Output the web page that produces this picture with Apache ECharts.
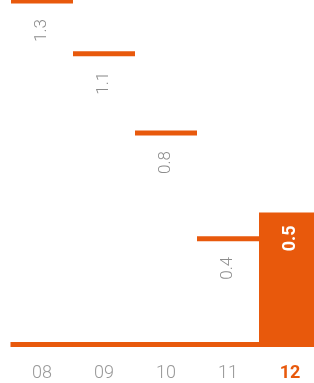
<!DOCTYPE html>
<html>
<head>
<meta charset="utf-8">
<script src="https://cdn.jsdelivr.net/npm/echarts@6/dist/echarts.min.js"></script>
<style>
  html, body { margin: 0; padding: 0; background: #fff; }
  #chart { width: 314px; height: 383px; }
</style>
</head>
<body>
<div id="chart"></div>
<script>
// months on the x axis and the value of each month
var months = ['08', '09', '10', '11', '12'];
var values = [1.3, 1.1, 0.8, 0.4, 0.5];
var current = 4; // the last month is drawn as a full bar

var orange = '#e8590c';
var grey = '#8c8c8c';

var myChart = echarts.init(document.getElementById('chart'));

function renderItem(params, api) {
    var idx = api.value(0);
    var val = api.value(1);
    var top = api.coord([idx, val]);
    var base = api.coord([idx, 0]);
    var w = api.size([1, 0])[0];
    var x0 = top[0] - w / 2;
    var children = [];
    if (idx === current) {
        children.push({
            type: 'rect',
            shape: {x: x0, y: top[1], width: w, height: base[1] - top[1] + 2.5},
            style: {fill: orange}
        });
        children.push({
            type: 'text',
            x: top[0], y: top[1] + 13,
            rotation: Math.PI / 2,
            style: {
                text: String(val), fill: '#fff', fontSize: 18, fontWeight: 'bold',
                fontFamily: 'Roboto', align: 'right', verticalAlign: 'middle'
            }
        });
    } else {
        // baseline piece, a little wider so the pieces join
        children.push({
            type: 'rect',
            shape: {x: x0 - 0.5, y: base[1] - 2.5, width: w + 1, height: 5},
            style: {fill: orange}
        });
        // value marker
        children.push({
            type: 'rect',
            shape: {x: x0, y: top[1] - 2.5, width: w, height: 5},
            style: {fill: orange}
        });
        children.push({
            type: 'text',
            x: top[0], y: top[1] + 18,
            rotation: Math.PI / 2,
            style: {
                text: String(val), fill: grey, fontSize: 17, fontWeight: 300,
                fontFamily: 'Roboto', align: 'right', verticalAlign: 'middle'
            }
        });
    }
    return {type: 'group', children: children};
}

var catData = months.map(function (m, i) {
    if (i === current) {
        return {value: m, textStyle: {color: orange, fontWeight: 'bold'}};
    }
    return m;
});

myChart.setOption({
    animation: false,
    grid: {left: 11, width: 310, top: 1, bottom: 38.5, outerBoundsMode: 'none', containLabel: false},
    xAxis: {
        type: 'category',
        data: catData,
        axisLine: {show: false},
        axisTick: {show: false},
        axisLabel: {
            color: '#999', fontSize: 18, fontWeight: 300,
            fontFamily: 'Roboto', margin: 20
        }
    },
    yAxis: {
        type: 'value',
        min: 0,
        max: 1.3,
        show: false,
        splitLine: {show: false}
    },
    series: [{
        type: 'custom',
        renderItem: renderItem,
        clip: false,
        data: values.map(function (v, i) { return [i, v]; })
    }]
});
</script>
</body>
</html>
